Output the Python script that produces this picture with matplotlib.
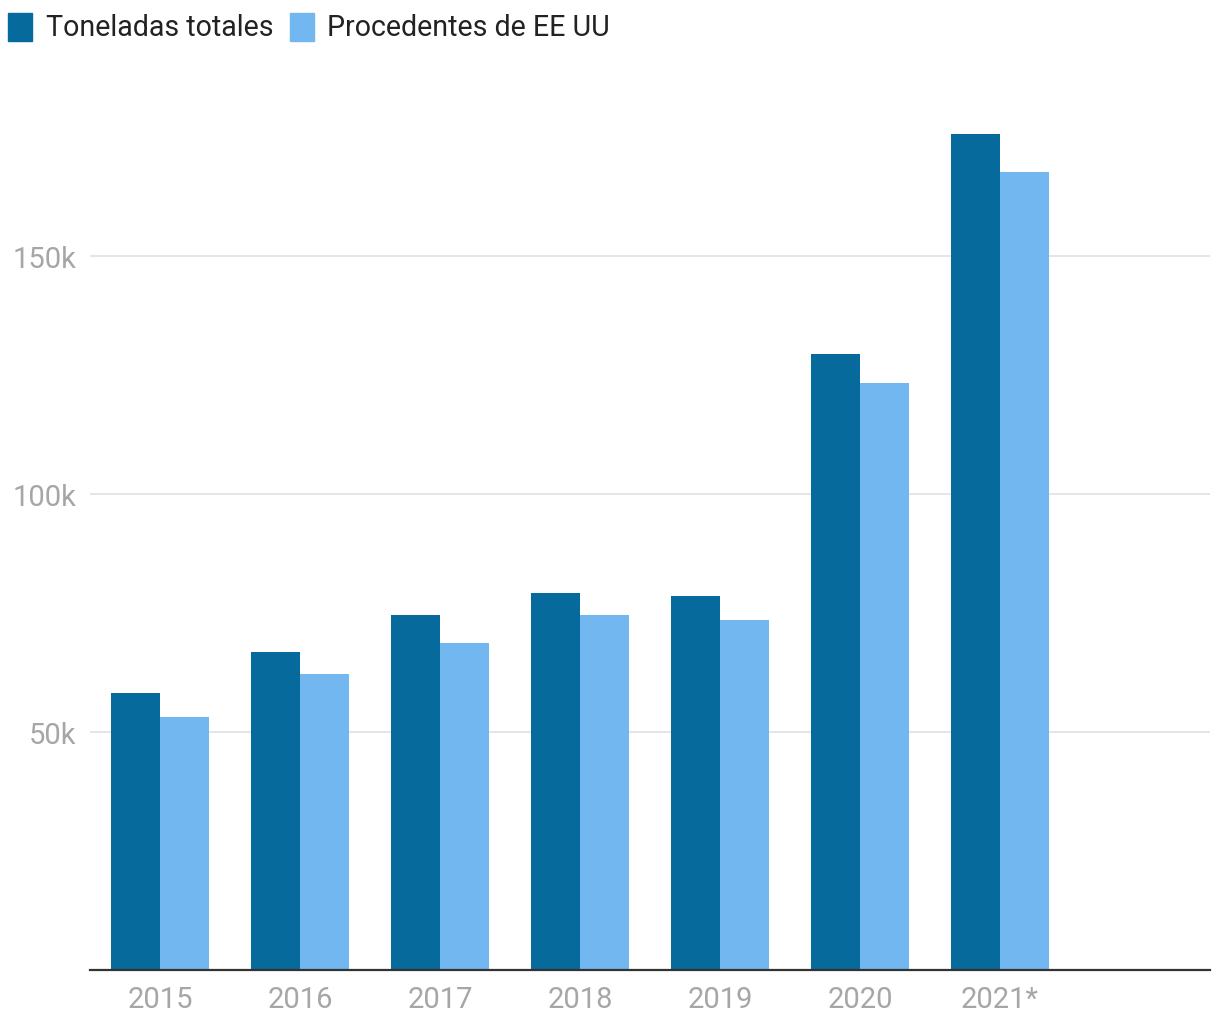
import matplotlib.pyplot as plt
import numpy as np

plt.rcParams['font.family'] = ['Roboto', 'DejaVu Sans']

years = ['2015', '2016', '2017', '2018', '2019', '2020', '2021*', '']
totales = [58200, 66800, 74600, 79200, 78600, 129400, 175600]
eeuu = [53200, 62200, 68700, 74600, 73500, 123300, 167600]

dark = '#066a9c'
light = '#73b7f0'
grey = '#a6a6a6'

fig = plt.figure(figsize=(12.2, 10.2), dpi=100)
ax = fig.add_axes([90 / 1220, 49 / 1020, 1120 / 1220, (969 - 80) / 1020])

x = np.arange(len(totales))
w = 0.35
ax.bar(x - w / 2, totales, width=w, color=dark, zorder=3)
ax.bar(x + w / 2, eeuu, width=w, color=light, zorder=3)

ax.set_xlim(-0.5, len(years) - 0.5)
ax.set_ylim(0, 186750)
ax.set_xticks(np.arange(len(years)))
ax.set_xticklabels(years)
ax.set_yticks([50000, 100000, 150000])
ax.set_yticklabels(['50k', '100k', '150k'])
ax.tick_params(axis='both', length=0, labelsize=21, labelcolor=grey)
ax.tick_params(axis='y', pad=10)
ax.tick_params(axis='x', pad=11)
ax.grid(axis='y', color='#e3e3e3', linewidth=1.3, zorder=0)

for s in ['top', 'right', 'left']:
    ax.spines[s].set_visible(False)
ax.spines['bottom'].set_color('#333333')
ax.spines['bottom'].set_linewidth(1.6)
ax.spines['bottom'].set_zorder(4)

# legend at top left
fig.patches.append(plt.Rectangle((8 / 1220, 1 - 42 / 1020), 24 / 1220, 28 / 1020,
                                 transform=fig.transFigure, color=dark))
fig.text(46 / 1220, 1 - 28 / 1020, 'Toneladas totales', fontsize=20.6, color='#222222', va='center')
fig.patches.append(plt.Rectangle((290 / 1220, 1 - 42 / 1020), 24 / 1220, 28 / 1020,
                                 transform=fig.transFigure, color=light))
fig.text(327 / 1220, 1 - 28 / 1020, 'Procedentes de EE UU', fontsize=20.6, color='#222222', va='center')

fig.savefig('out.png', dpi=100)
